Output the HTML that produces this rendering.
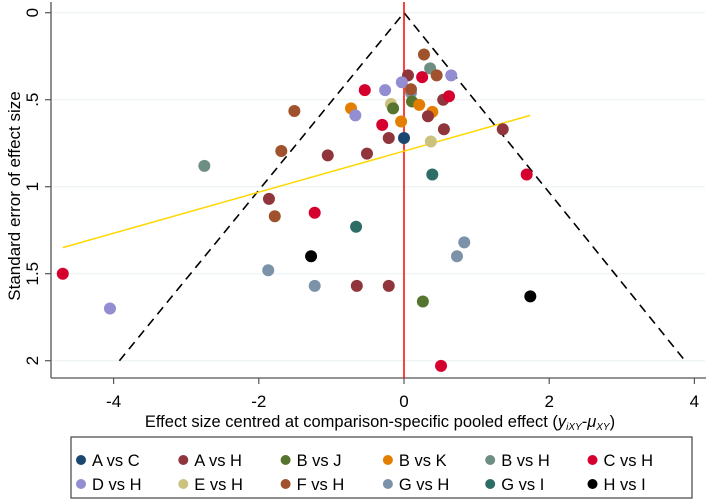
<!DOCTYPE html>
<html><head><meta charset="utf-8"><style>
html,body{margin:0;padding:0;background:#fff;}
svg{display:block;font-family:"Liberation Sans",Arial,sans-serif;}
</style></head><body>
<svg id="chart" width="708" height="504" viewBox="0 0 708 504"></svg>
<script>
const groups = ["A vs C","A vs H","B vs J","B vs K","B vs H","C vs H","D vs H","E vs H","F vs H","G vs H","G vs I","H vs I"];
const colors = ["#1a476f","#90353b","#55752f","#e37e00","#6e8e84","#d6002f","#938dd2","#cac27e","#a0522d","#7b92a8","#2d6d66","#000000"];
const xTicks = [-4,-2,0,2,4];
const yTicks = [0,0.5,1,1.5,2];
const yTickLabels = ["0",".5","1","1.5","2"];
const ptGroup = [5,6,4,8,8,1,1,8,5,10,11,9,9,1,3,6,
  8,4,1,5,8,6,6,5,6,9,8,2,3,1,5,7,2,3,1,3,5,1,0,7,1,1,1,10,5,9,9,1,2,11,5];
const ptX = [-4.70,-4.05,-2.75,-1.51,-1.69,-1.05,-1.86,-1.78,-1.23,-0.66,-1.28,-1.87,-1.23,-0.65,-0.73,-0.67,
  0.275,0.36,0.055,0.25,0.45,0.65,-0.03,-0.54,-0.26,0.096,0.096,0.11,0.21,0.54,0.62,-0.18,-0.15,0.39,0.33,-0.04,-0.30,-0.21,0.00,0.37,0.55,1.36,-0.51,0.39,1.69,0.83,0.73,-0.21,0.26,1.74,0.51];
const ptY = [1.50,1.70,0.88,0.565,0.795,0.82,1.07,1.17,1.15,1.23,1.40,1.48,1.57,1.57,0.55,0.59,
  0.24,0.32,0.36,0.37,0.36,0.36,0.40,0.445,0.445,0.46,0.44,0.51,0.53,0.50,0.48,0.525,0.55,0.57,0.595,0.625,0.645,0.72,0.72,0.74,0.67,0.67,0.81,0.93,0.93,1.32,1.40,1.57,1.66,1.63,2.03];
const funnelX = [-3.92,0,3.87];
const funnelY = [2,0,2];
const regX = [-4.70,1.74];
const regY = [1.35,0.59];

const NS="http://www.w3.org/2000/svg";
const svg=document.getElementById('chart');
const X=v=>404+v*72.6;
const Y=v=>12.7+v*174;
function mk(tag,attrs,parent){const e=document.createElementNS(NS,tag);for(const k in attrs)e.setAttribute(k,attrs[k]);(parent||svg).appendChild(e);return e;}

yTicks.forEach((t,i)=>{
  const g=mk('line',{x1:51,x2:705,y1:Y(t),y2:Y(t),stroke:'#eaf2f0','stroke-width':1});
  
  
  const tk=mk('line',{x1:45,x2:51,y1:Y(t),y2:Y(t),stroke:'#555','stroke-width':1.2});
  
  
  const tx=mk('text',{x:0,y:0,transform:`translate(38,${Y(t)}) rotate(-90)`,'text-anchor':'middle','font-size':17,fill:'#000'});
  tx.textContent=yTickLabels[i];
  
  
});
xTicks.forEach(t=>{
  const tk=mk('line',{x1:X(t),x2:X(t),y1:378,y2:384,stroke:'#555','stroke-width':1.2});
  
  
  const tx=mk('text',{x:X(t),y:407,'text-anchor':'middle','font-size':17,fill:'#000'});
  tx.textContent=String(t);
  
  
});
const ya=mk('line',{x1:51,x2:51,y1:2,y2:378,stroke:'#555','stroke-width':1.3});


const xa=mk('line',{x1:51,x2:706,y1:378,y2:378,stroke:'#555','stroke-width':1.3});



const fl=mk('polyline',{points:funnelX.map((v,i)=>X(v)+','+Y(funnelY[i])).join(' '),fill:'none',stroke:'#000','stroke-width':1.6,'stroke-dasharray':'9,6'});


const zl=mk('line',{x1:X(0),x2:X(0),y1:2,y2:378,stroke:'#ff0000','stroke-width':1.5});


const rl=mk('line',{x1:X(regX[0]),y1:Y(regY[0]),x2:X(regX[1]),y2:Y(regY[1]),stroke:'#ffd700','stroke-width':1.5});



ptX.forEach((v,i)=>{
  const c=mk('circle',{cx:X(v),cy:Y(ptY[i]),r:6,fill:colors[ptGroup[i]]});
  
  
});

const yt=mk('text',{x:0,y:0,transform:'translate(20,196) rotate(-90)','text-anchor':'middle','font-size':17,fill:'#000'});
yt.textContent='Standard error of effect size';


const xt=mk('text',{x:380,y:427,'text-anchor':'middle','font-size':16.5,fill:'#000'});
xt.innerHTML='Effect size centred at comparison-specific pooled effect (<tspan font-style="italic">y</tspan><tspan font-style="italic" font-size="10" dy="3">iXY</tspan><tspan dy="-3">-</tspan><tspan font-style="italic">μ</tspan><tspan font-style="italic" font-size="10" dy="3">XY</tspan><tspan dy="-3">)</tspan>';



const lb=mk('rect',{x:71,y:437,width:621,height:61,fill:'#fff',stroke:'#444','stroke-width':1.2});


groups.forEach((g,i)=>{
  const col=i%6,row=Math.floor(i/6);
  const cx=81+col*102.3, cy=460+row*24;
  const d=mk('circle',{cx:cx,cy:cy,r:5,fill:colors[i]});
  
  
  const t=mk('text',{x:cx+11,y:cy+6,'font-size':16.5,fill:'#000'});
  t.textContent=g;
  
  
});
</script>
</body></html>
